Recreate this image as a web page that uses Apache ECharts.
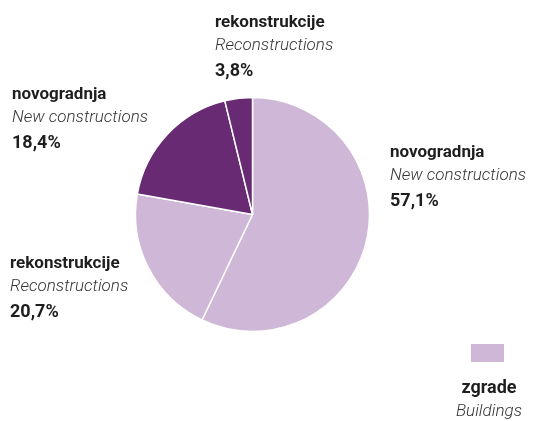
<!DOCTYPE html>
<html>
<head>
<meta charset="utf-8">
<script src="https://cdn.jsdelivr.net/npm/echarts@6/dist/echarts.min.js"></script>
<style>
  html, body { margin: 0; padding: 0; background: #fff; }
  #chart { width: 533px; height: 421px; }
</style>
</head>
<body>
<div id="chart"></div>
<script>
// udjeli po vrsti radova (u smjeru kazaljke, od vrha)
var names = ['novogradnja', 'rekonstrukcije', 'novogradnja', 'rekonstrukcije'];
var namesEn = ['New constructions', 'Reconstructions', 'New constructions', 'Reconstructions'];
var values = [57.1, 20.7, 18.4, 3.8];
var groups = ['zgrade', 'zgrade', 'ostalo', 'ostalo'];

var colors = { zgrade: '#cfb7d7', ostalo: '#672a73' };
var FONT = 'Roboto, "Liberation Sans", sans-serif';

// gdje stoji koji natpis (lijevi rub, sredina bloka)
var labelPos = [[390, 178], [10, 289], [12, 120], [215, 48]];

var pieData = values.map(function (v, i) {
  return { value: v, name: names[i], itemStyle: { color: colors[groups[i]] } };
});

var chart = echarts.init(document.getElementById('chart'));
chart.setOption({
  animation: false,
  series: [{
    type: 'pie',
    center: [252.5, 214.5],
    radius: 117,
    startAngle: 90,
    clockwise: true,
    silent: true,
    itemStyle: { borderColor: '#fff', borderWidth: 1.5 },
    label: {
      show: true,
      position: 'outside',
      fontFamily: FONT,
      overflow: 'none',
      formatter: function (p) {
        return '{a|' + names[p.dataIndex] + '}\n{b|' + namesEn[p.dataIndex] + '}\n{c|' +
          values[p.dataIndex].toFixed(1).replace('.', ',') + '%}';
      },
      rich: {
        a: { fontFamily: FONT, fontSize: 17, fontWeight: 'bold', color: '#1e1e1e', lineHeight: 23 },
        b: { fontFamily: FONT, fontSize: 17, fontStyle: 'italic', fontWeight: 300, color: '#333', lineHeight: 23 },
        c: { fontFamily: FONT, fontSize: 18, fontWeight: 'bold', color: '#1e1e1e', lineHeight: 27 }
      }
    },
    labelLine: { show: false },
    labelLayout: function (p) {
      var pos = labelPos[p.dataIndex];
      return { x: pos[0], y: pos[1], align: 'left', verticalAlign: 'middle' };
    },
    data: pieData
  }],
  graphic: [
    { type: 'rect', shape: { x: 471, y: 344, width: 33, height: 18 }, style: { fill: colors.zgrade } },
    { type: 'text', x: 489, y: 388, style: { text: 'zgrade', font: 'bold 18px ' + FONT, fill: '#1e1e1e', align: 'center', verticalAlign: 'middle' } },
    { type: 'text', x: 489, y: 412, style: { text: 'Buildings', font: 'italic 300 17px ' + FONT, fill: '#333', align: 'center', verticalAlign: 'middle' } }
  ]
});
</script>
</body>
</html>
